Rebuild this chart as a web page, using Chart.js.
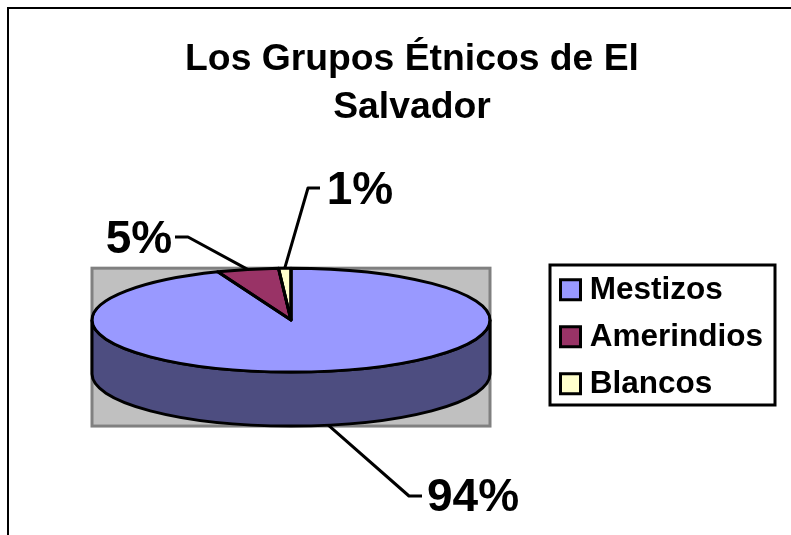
<!DOCTYPE html>
<html>
<head>
<meta charset="utf-8">
<script src="https://cdn.jsdelivr.net/npm/chart.js@4"></script>
<style>
  html, body { margin: 0; padding: 0; background: #fff; }
  canvas { display: block; }
</style>
</head>
<body>
<canvas id="myChart" width="791" height="535"></canvas>
<script>
var titleLines = ['Los Grupos Étnicos de El', 'Salvador'];
var categories = ['Mestizos', 'Amerindios', 'Blancos'];
var values = [94, 5, 1];
var topColors = ['#9999FF', '#993366', '#FFFFCC'];
var sideColors = ['#4D4D80', '#4D1A33', '#808066'];

var squash = 0.261;
var depth = 54;
var lineColor = '#000';
var penWidth = 3;

// elbow and text position of each callout
var elbows = [[409, 496], [188, 237], [308, 188]];
var lineEnds = [[422, 496], [175, 237], [320, 188]];
var labelSpots = [[473, 498], [139, 240], [360, 191]];

function arcs(chart) {
    return chart.getDatasetMeta(0).data;
}

function tracePie(ctx, a, fn) {
    ctx.save();
    ctx.translate(a.x, a.y);
    ctx.scale(1, squash);
    ctx.translate(-a.x, -a.y);
    fn();
    ctx.restore();
}

var pie3d = {
    id: 'pie3d',
    afterLayout: function (chart) {
        // title and legend sit off the pie's centre, as in the original
        chart.titleBlock.left = 33;
        chart.titleBlock.right = 791;
        var lg = chart.legend;
        lg.left = 546.5;
        lg.top = 259.5;
        lg.right = 791;
        lg.bottom = 535;
    },
    beforeDraw: function (chart) {
        var ctx = chart.ctx;
        var a = arcs(chart)[0];
        var r = a.outerRadius;
        var ry = r * squash;
        ctx.save();
        ctx.fillStyle = '#fff';
        ctx.fillRect(0, 0, chart.width, chart.height);
        // frame: top and left edges only, the rest is cut off
        ctx.strokeStyle = lineColor;
        ctx.lineWidth = 2;
        ctx.beginPath();
        ctx.moveTo(chart.width, 8);
        ctx.lineTo(8, 8);
        ctx.lineTo(8, chart.height);
        ctx.stroke();
        // plot area
        ctx.fillStyle = '#C0C0C0';
        ctx.strokeStyle = '#808080';
        ctx.lineWidth = 3;
        ctx.fillRect(a.x - r, a.y - ry, 2 * r, 2 * ry + depth);
        ctx.strokeRect(a.x - r, a.y - ry, 2 * r, 2 * ry + depth);
        // legend box
        ctx.fillStyle = '#fff';
        ctx.strokeStyle = lineColor;
        ctx.lineWidth = penWidth;
        ctx.fillRect(550, 265, 225, 140);
        ctx.strokeRect(550, 265, 225, 140);
        ctx.restore();
    },
    beforeDatasetsDraw: function (chart) {
        var ctx = chart.ctx;
        // side wall, only the part that faces the viewer
        arcs(chart).forEach(function (a, i) {
            var s = Math.max(a.startAngle, 0);
            var e = Math.min(a.endAngle, Math.PI);
            if (e <= s) return;
            var r = a.outerRadius;
            ctx.save();
            ctx.beginPath();
            ctx.ellipse(a.x, a.y, r, r * squash, 0, s, e);
            ctx.ellipse(a.x, a.y + depth, r, r * squash, 0, e, s, true);
            ctx.closePath();
            ctx.fillStyle = sideColors[i];
            ctx.fill();
            ctx.strokeStyle = lineColor;
            ctx.lineWidth = penWidth;
            ctx.stroke();
            ctx.restore();
        });
        var a0 = arcs(chart)[0];
        ctx.save();
        ctx.translate(a0.x, a0.y);
        ctx.scale(1, squash);
        ctx.translate(-a0.x, -a0.y);
    },
    afterDatasetsDraw: function (chart) {
        var ctx = chart.ctx;
        ctx.restore();
        var total = values.reduce(function (p, v) { return p + v; }, 0);
        arcs(chart).forEach(function (a, i) {
            // outline with an even width, the path is squashed but the pen is not
            ctx.save();
            ctx.beginPath();
            tracePie(ctx, a, function () {
                ctx.moveTo(a.x, a.y);
                ctx.arc(a.x, a.y, a.outerRadius, a.startAngle, a.endAngle);
                ctx.closePath();
            });
            ctx.strokeStyle = lineColor;
            ctx.lineWidth = penWidth;
            ctx.lineJoin = 'round';
            ctx.stroke();

            // callout, starts on the pie edge at the middle of the slice
            var mid = (a.startAngle + a.endAngle) / 2;
            var sx = a.x + a.outerRadius * Math.cos(mid);
            var sy = a.y + a.outerRadius * squash * Math.sin(mid);
            if (Math.sin(mid) > 0) sy += depth;
            ctx.beginPath();
            ctx.moveTo(sx, sy);
            ctx.lineTo(elbows[i][0], elbows[i][1]);
            ctx.lineTo(lineEnds[i][0], lineEnds[i][1]);
            ctx.stroke();

            ctx.fillStyle = '#000';
            ctx.font = 'bold 46px "Liberation Sans"';
            ctx.textAlign = 'center';
            ctx.textBaseline = 'middle';
            ctx.fillText(Math.round(values[i] / total * 100) + '%', labelSpots[i][0], labelSpots[i][1]);
            ctx.restore();
        });

        // legend swatches are wider than the gap the legend leaves before its text
        var lg = chart.legend;
        lg.legendItems.forEach(function (item, i) {
            var hit = lg.legendHitBoxes[i];
            var y = hit.top + (hit.height - 20) / 2 - 1;
            ctx.save();
            ctx.fillStyle = item.fillStyle;
            ctx.strokeStyle = lineColor;
            ctx.lineWidth = penWidth;
            ctx.fillRect(hit.left - 1.5, y, 20, 20);
            ctx.strokeRect(hit.left - 1.5, y, 20, 20);
            ctx.restore();
        });
    }
};

var ctx = document.getElementById('myChart').getContext('2d');
Chart.defaults.font.family = '"Liberation Sans"';
var myChart = new Chart(ctx, {
    type: 'pie',
    data: {
        labels: categories,
        datasets: [{
            data: values,
            backgroundColor: topColors,
            borderColor: lineColor,
            borderWidth: 2.5
        }]
    },
    plugins: [pie3d],
    options: {
        responsive: false,
        animation: false,
        radius: 199,
        layout: {
            padding: { left: 0, right: 209, top: 0, bottom: 27 }
        },
        plugins: {
            title: {
                display: true,
                text: titleLines,
                color: '#000',
                font: { size: 37.3, weight: 'bold', lineHeight: 1.29 },
                padding: { top: 36, bottom: 0 }
            },
            legend: {
                position: 'chartArea',
                align: 'start',
                labels: {
                    color: '#000',
                    font: { size: 31.5, weight: 'bold' },
                    boxWidth: 12,
                    boxHeight: 12,
                    padding: 15.5
                }
            },
            tooltip: { enabled: false }
        }
    }
});
</script>
</body>
</html>
